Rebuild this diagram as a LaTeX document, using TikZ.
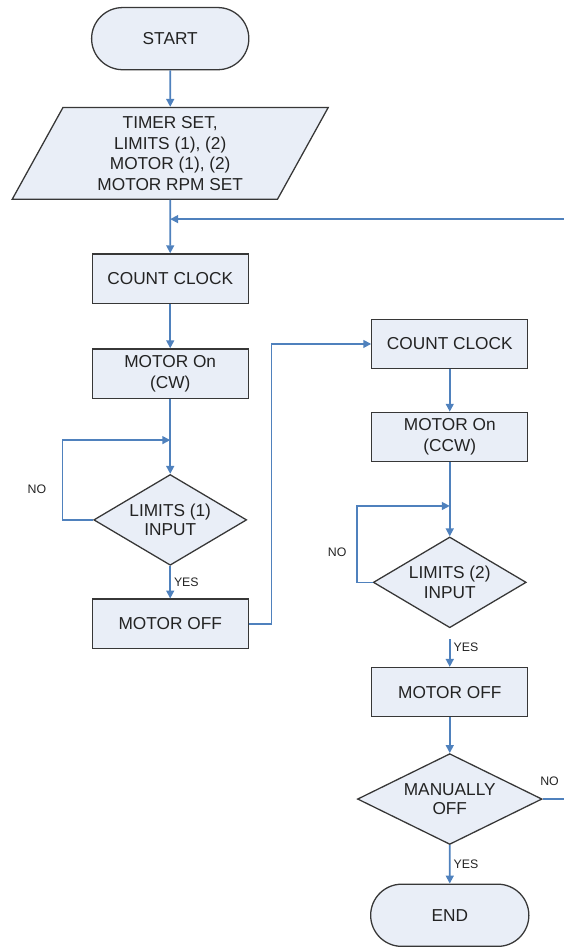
\documentclass[tikz,border=0pt]{standalone}
\usepackage{fontspec}
\setmainfont{Liberation Sans}
\usepackage{tikz}
\usetikzlibrary{positioning,arrows.meta,calc,shapes.geometric,shapes.misc}
\usepackage{xcolor}
\definecolor{boxfill}{RGB}{233,238,247}
\definecolor{boxline}{RGB}{55,55,55}
\definecolor{flowblue}{RGB}{79,129,189}
\definecolor{txt}{RGB}{35,35,35}
\tikzset{
  >={Triangle[length=8pt,width=8pt]},
  base/.style={draw=boxline, line width=1.3pt, fill=boxfill, text=txt, align=center,
    font=\fontsize{17.5}{21.5}\selectfont},
  terminal/.style={base, rounded rectangle, minimum width=166pt, minimum height=63pt},
  process/.style={base, rectangle, inner sep=0pt, minimum width=158pt, minimum height=50pt},
  io/.style={base, trapezium, trapezium left angle=65, trapezium right angle=115,
    trapezium stretches=true, minimum width=321pt, minimum height=93pt, inner sep=0pt,
    font=\fontsize{17.5}{20.8}\selectfont},
  decision/.style={base, diamond, aspect=1.68, inner sep=0pt, minimum width=155pt,
    minimum height=92pt, font=\fontsize{17.5}{19.5}\selectfont},
  flow/.style={->, draw=flowblue, line width=1.7pt},
  lbl/.style={font=\fontsize{12.5}{14}\selectfont, text=txt, inner sep=3pt},
}

\begin{document}
\begin{tikzpicture}
\node[terminal] (start) {START};
\node[io, below=37pt of start] (setup) {TIMER SET,\\LIMITS (1), (2)\\MOTOR (1), (2)\\MOTOR RPM SET};
\node[process, below=54pt of setup] (cc1) {COUNT CLOCK};
\node[process, below=45pt of cc1] (motcw) {MOTOR On\\(CW)};
\node[decision, below=76pt of motcw] (lim1) {LIMITS (1)\\INPUT};
\node[process, below=33pt of lim1] (off1) {MOTOR OFF};
\node[process, below right=15pt and 124pt of cc1] (cc2) {COUNT CLOCK};
\node[process, below=43pt of cc2] (motccw) {MOTOR On\\(CCW)};
\node[decision, below=75pt of motccw] (lim2) {LIMITS (2)\\INPUT};
\node[process, below=39pt of lim2] (off2) {MOTOR OFF};
\node[decision, minimum width=187pt, below=36pt of off2] (manual) {MANUALLY\\OFF};
\node[terminal, minimum width=167pt, below=39pt of manual] (stop) {END};

\useasboundingbox ($(start.north)+(-172.5pt,7pt)$) rectangle ++(571pt,-947pt);

\coordinate (m1) at ($(setup.south)!.36!(cc1.north)$);
\coordinate (m2) at ($(motcw.south)!.55!(lim1.north)$);
\coordinate (m3) at ($(motccw.south)!.59!(lim2.north)$);

\node[lbl] (no1) at ($(lim1.west)+(-57pt,31pt)$) {NO};
\node[lbl] (no2) at ($(lim2.west)+(-36pt,31pt)$) {NO};
\node[lbl] (no3) at ($(manual.east)+(7pt,18pt)$) {NO};

\draw[flow] (start) -- (setup);
\draw[flow] (setup) -- (cc1);
\draw[flow] (cc1) -- (motcw);
\draw[flow] (motcw) -- (lim1);
\draw[flow] (lim1) -- node[lbl, right]{YES} (off1);
\draw[flow] (lim1.west) -- ++(-31pt,0) |- (m2);
\draw[flow] (off1.east) -- ++(23pt,0) |- (cc2.west);
\draw[flow] (cc2) -- (motccw);
\draw[flow] (motccw) -- (lim2);
\draw[flow] (lim2.west) -- ++(-16pt,0) |- (m3);
\draw[flow, shorten <=11pt] (lim2) -- node[lbl, right]{YES} (off2);
\draw[flow] (off2) -- (manual);
\draw[flow] (manual) -- node[lbl, right]{YES} (stop);
\draw[flow] (manual.east) -- ++(24pt,0) |- (m1);
\end{tikzpicture}
\end{document}
